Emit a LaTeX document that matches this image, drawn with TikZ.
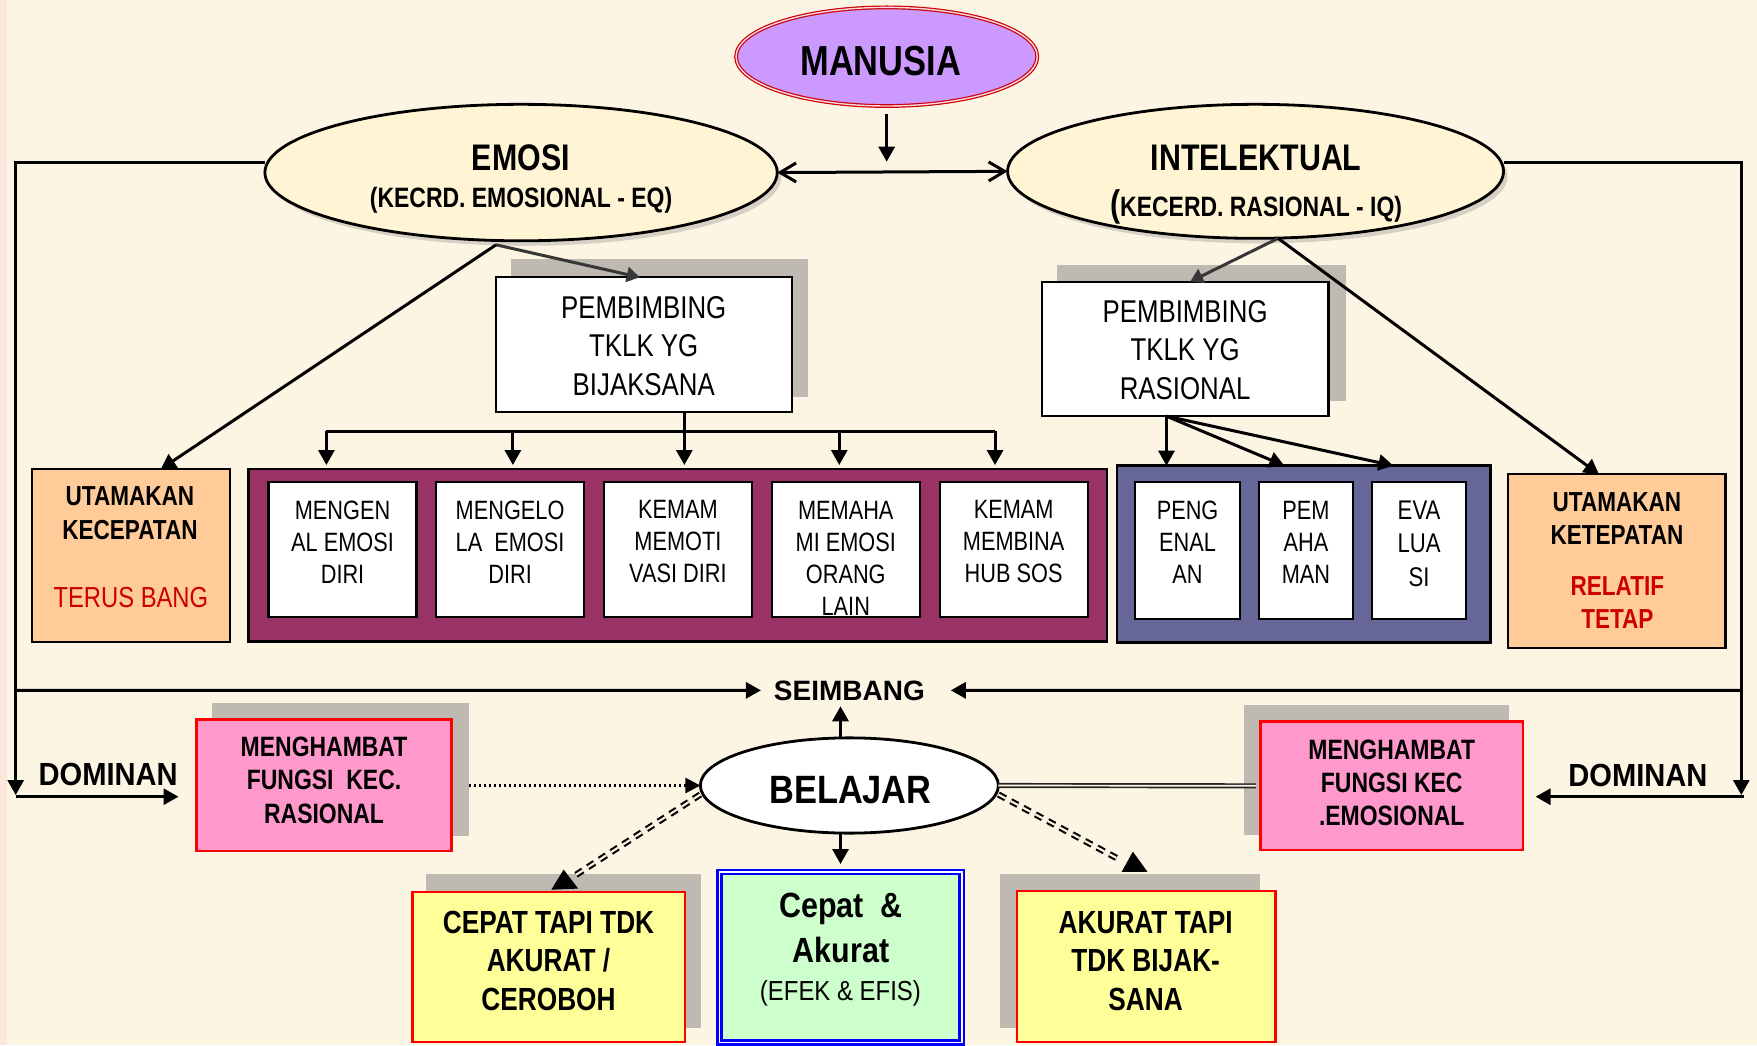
\documentclass[tikz,border=0pt]{standalone}
\usepackage{fontspec}
\setmainfont{Liberation Sans}
\newfontfamily\fA{Liberation Sans}[FakeStretch=0.82]
\newfontfamily\fB{Liberation Sans}[FakeStretch=0.87]
\newfontfamily\fC{Liberation Sans}[FakeStretch=0.91]
\usetikzlibrary{arrows.meta,shapes.geometric,shadows}
\newcommand\uu{1.1205pt}
\newcommand\myfs[2]{\fontsize{#1}{#2}\selectfont}
\definecolor{bg}{RGB}{253,245,228}
\definecolor{strip}{RGB}{250,230,218}
\definecolor{shgrey}{RGB}{190,185,177}
\definecolor{purp}{RGB}{204,153,255}
\definecolor{mgap}{RGB}{250,215,230}
\definecolor{cream}{RGB}{255,244,212}
\definecolor{maroonc}{RGB}{153,51,102}
\definecolor{slatec}{RGB}{102,102,153}
\definecolor{orng}{RGB}{255,204,153}
\definecolor{pinkc}{RGB}{255,153,204}
\definecolor{yell}{RGB}{255,255,153}
\definecolor{mint}{RGB}{204,255,204}
\definecolor{rtext}{RGB}{204,0,0}
\definecolor{dgrey}{RGB}{55,55,55}
\definecolor{manred}{RGB}{204,0,0}
\definecolor{bluec}{RGB}{0,0,255}
\begin{document}
\begin{tikzpicture}[x=1.1205pt,y=-1.1205pt,
  sz/.style 2 args={minimum width=#1*\uu,minimum height=#2*\uu},
  shp/.style={inner sep=0pt,outer sep=0pt},
  shbox/.style={shp,fill=shgrey,draw=none},
  wbox/.style={shp,fill=white,draw=black,line width=2.2pt},
  orbox/.style={shp,fill=orng,draw=black,line width=2.2pt},
  pkbox/.style={shp,fill=pinkc,draw=red,line width=2.4pt},
  ylbox/.style={shp,fill=yell,draw=red,line width=2.4pt},
  cont/.style={shp,draw=black,line width=2.6pt},
  ell/.style={shp,ellipse,draw=black,line width=2.8pt},
  txt/.style={inner sep=0pt,outer sep=0pt,align=center},
  ln/.style={line width=3pt,draw=black},
  arr/.style={-{Triangle[length=15pt,width=16pt]}},
  gar/.style={line width=3pt,draw=dgrey,-{Triangle[length=13pt,width=15pt]}},
  opn/.style={{Straight Barb[length=16pt,width=19pt]}-{Straight Barb[length=16pt,width=19pt]}},
  dotl/.style={line width=2.8pt,draw=black,dash pattern=on 2.6pt off 2.4pt,-{Triangle[length=15pt,width=15pt]}},
  dbl/.style={draw=black!85,double=bg,line width=1.7pt,double distance=1.7pt},
  ddash/.style={draw=black,double=bg,line width=2.1pt,double distance=2.1pt,dash pattern=on 8pt off 6pt},
  eshadow/.style={drop shadow={shadow xshift=4pt,shadow yshift=-5pt,opacity=0.3}}
]
% background
\fill[bg] (0,0) rectangle (1568,933);
\fill[strip] (0,0) rectangle (6,933);
\useasboundingbox (0,0) rectangle (1568,933);

% ellipses
\node[ell,sz={268.8}{88},fill=purp,draw=manred,line width=1.2pt,double=mgap,double distance=1.4pt] (manusia) at (791.3,50.6) {};
\node[ell,sz={457.2}{121.8},fill=cream,eshadow] (emosi) at (465,154) {};
\node[ell,sz={442.6}{119.6},fill=cream,eshadow] (intel) at (1120.5,152.9) {};
\node[ell,sz={266}{85},fill=white] (bel) at (758,701) {};

% grey shadows of boxes
\node[shbox,sz={265}{123}] (shPL) at (588.5,292.5) {};
\node[shbox,sz={258}{121}] (shPR) at (1072,297) {};
\node[shbox,sz={229.4}{118.7}] (shML) at (303.5,686.5) {};
\node[shbox,sz={237.1}{116}] (shMR) at (1228.4,687.2) {};
\node[shbox,sz={245.4}{136.9}] (shCL) at (503.3,848.8) {};
\node[shbox,sz={232.2}{136.9}] (shAR) at (1008.7,848.8) {};

% boxes
\node[wbox,sz={264}{120}] (pembL) at (574.5,307.5) {};
\node[wbox,sz={256}{120}] (pembR) at (1057.6,311.4) {};
\node[orbox,sz={176.6}{154}] (utL) at (117,495.7) {};
\node[cont,fill=maroonc,sz={766}{154}] (purple) at (605,495.7) {};
\foreach \n/\x in {1/305.7,2/455.2,3/605,4/754.8,5/904.6}
  \node[wbox,sz={132}{120.5}] (e\n) at (\x,490.2) {};
\node[cont,fill=slatec,sz={333.4}{158}] (blue) at (1163.4,494.6) {};
\node[wbox,sz={94.2}{122.5}] (i1) at (1059.8,491.2) {};
\node[wbox,sz={83.4}{122.5}] (i2) at (1165.5,491.2) {};
\node[wbox,sz={83.4}{122.5}] (i3) at (1266.4,491.2) {};
\node[orbox,sz={194.5}{154.7}] (utR) at (1442.7,500.7) {};
\node[pkbox,sz={227.8}{117.2}] (pinkL) at (289.2,700.6) {};
\node[pkbox,sz={234.6}{114.6}] (pinkR) at (1242.1,701.3) {};
\node[ylbox,sz={243}{134}] (cepL) at (489.6,862.8) {};
\node[ylbox,sz={230.6}{134.5}] (akR) at (1022.9,862.4) {};
\node[shp,fill=mint,draw=bluec,line width=2.6pt,double=white,double distance=1.5pt,sz={216.4}{152.3}] (ca) at (750.1,854.4) {};

% named coordinates
\coordinate (eB) at ([xshift=-25pt,yshift=-4pt]emosi.south);
\coordinate (iB) at ([xshift=22.5pt]intel.south);
\coordinate (manT) at (791.3,144.3);
\coordinate (lDown) at (14,709.5);
\coordinate (rDown) at (1554,709.5);
\coordinate (lMid) at (14,616);
\coordinate (rMid) at (1554,616);
\coordinate (dLs) at (14,711);
\coordinate (dLe) at (159.3,711);
\coordinate (dRs) at (1556,711);
\coordinate (dRe) at (1370.4,711);
\foreach \n/\x in {1/291.3,2/457.7,3/610.7,4/749,5/888}{
  \coordinate (bus\n) at (\x,384.7);
  \coordinate (tp\n) at (\x,415);
}
\coordinate (rB) at ([xshift=-18.6pt]pembR.south);
\coordinate (dashLe) at (510.5,783);
\coordinate (dashRe) at (997,766);

% texts
\node[txt,anchor=base,font=\fA\bfseries\myfs{42}{50}] (tMan) at (786,67) {MANUSIA};
\node[txt,anchor=base,font=\fA\bfseries\myfs{37}{44}] (tEmo) at (464.8,152.3) {EMOSI};
\node[txt,anchor=base,font=\fA\bfseries\myfs{28}{34}] (tEq) at (465,184.8) {(KECRD. EMOSIONAL - EQ)};
\node[txt,anchor=base,font=\fA\bfseries\myfs{37}{44}] (tInt) at (1121,152.3) {INTELEKTUAL};
\node[txt,anchor=base,font=\fA\bfseries\myfs{28}{34}] (tIq) at (1121,193.4) {{\myfs{37}{40}(}KECERD. RASIONAL - IQ)};
\node[txt,font=\fA\myfs{31.5}{38.4}] (tPL) at (574.5,308.8) {PEMBIMBING\\TKLK YG\\BIJAKSANA};
\node[txt,font=\fA\myfs{31.5}{38.4}] (tPR) at (1057.6,312.4) {PEMBIMBING\\TKLK YG\\RASIONAL};
\node[txt,font=\fA\myfs{26.5}{32}] (t1) at (305.7,483.6) {MENGEN\\AL EMOSI\\DIRI};
\node[txt,font=\fA\myfs{26.5}{32}] (t2) at (455.2,483.6) {MENGELO\\LA\ \ EMOSI\\DIRI};
\node[txt,font=\fA\myfs{26.5}{32}] (t3) at (605,483.6) {KEMAM\\MEMOTI\\VASI DIRI};
\node[txt,font=\fA\myfs{26.5}{32}] (t4) at (754.8,497.9) {MEMAHA\\MI EMOSI\\ORANG\\LAIN};
\node[txt,font=\fA\myfs{26.5}{32}] (t5) at (904.6,483.6) {KEMAM\\MEMBINA\\HUB SOS};
\node[txt,font=\fA\myfs{26.5}{32}] (tb1) at (1059.8,483.6) {PENG\\ENAL\\AN};
\node[txt,font=\fA\myfs{26.5}{32}] (tb2) at (1165.5,483.6) {PEM\\AHA\\MAN};
\node[txt,font=\fA\myfs{27}{33.3}] (tb3) at (1266.4,485.3) {EVA\\LUA\\SI};
\node[txt,font=\fA\bfseries\myfs{27.5}{33.6}] (tUL) at (116,458) {UTAMAKAN\\KECEPATAN};
\node[txt,anchor=base,font=\fA\myfs{29}{34},text=rtext] (tUL2) at (116.8,542) {TERUS BANG};
\node[txt,font=\fA\bfseries\myfs{27.5}{33.6}] (tUR) at (1443,462.6) {UTAMAKAN\\KETEPATAN};
\node[txt,font=\fA\bfseries\myfs{27.5}{33.4},text=rtext] (tUR2) at (1443.4,537.7) {RELATIF\\TETAP};
\node[txt,anchor=base,font=\bfseries\myfs{28}{34}] (seim) at (758,624.7) {SEIMBANG};
\node[txt,anchor=base,font=\fB\bfseries\myfs{39.5}{46}] (tBel) at (759,717) {BELAJAR};
\node[txt,anchor=base,font=\fC\bfseries\myfs{32}{38}] (tDomL) at (96.5,700.6) {DOMINAN};
\node[txt,anchor=base,font=\fC\bfseries\myfs{32}{38}] (tDomR) at (1461.7,702) {DOMINAN};
\node[txt,font=\fA\bfseries\myfs{28}{33.3}] (tML) at (289.2,696.4) {MENGHAMBAT\\FUNGSI\ \ KEC.\\RASIONAL};
\node[txt,font=\fA\bfseries\myfs{28}{33.3}] (tMR) at (1242,698.8) {MENGHAMBAT\\FUNGSI KEC\\.EMOSIONAL};
\node[txt,font=\fA\bfseries\myfs{32}{38.3}] (tCL) at (489.5,857.5) {CEPAT TAPI TDK\\AKURAT /\\CEROBOH};
\node[txt,font=\fA\bfseries\myfs{32}{38.3}] (tAR) at (1022.4,857.5) {AKURAT TAPI\\TDK BIJAK-\\SANA};
\node[txt,font=\fB\bfseries\myfs{35}{44.8}] (tCA) at (750.5,828) {Cepat\ \ \&\\Akurat};
\node[txt,anchor=base,font=\fB\myfs{27.5}{33}] (tCA2) at (750,893) {(EFEK \& EFIS)};

\coordinate (seimB) at ([yshift=-6pt]seim.south);

% connectors
\draw[ln,arr] ([yshift=-8pt]manusia.south) -- (manT);
\draw[ln,opn] (emosi.east) -- (intel.west);
\draw[ln,arr] ([yshift=10pt]emosi.west) -| (lDown);
\draw[ln,arr] ([yshift=9pt]intel.east) -| (rDown);
\draw[ln,arr] (lMid) -- ([xshift=-13pt]seim.west);
\draw[ln,arr] (rMid) -- ([xshift=26pt]seim.east);
\draw[ln,arr] (dLs) -- (dLe);
\draw[ln,arr] (dRs) -- (dRe);
\draw[gar] (eB) -- ([xshift=-4pt]pembL.north);
\draw[ln,arr] (eB) -- ([xshift=29.6pt]utL.north);
\draw[gar] (iB) -- ([xshift=5pt]pembR.north);
\draw[ln,arr] (iB) -- ([xshift=-17.6pt]utR.north);
\draw[ln,arr] (pembL.south -| bus3) -- (tp3);
\draw[ln] (bus1) -- (bus5);
\foreach \n in {1,2,4,5} \draw[ln,arr] (bus\n) -- (tp\n);
\draw[ln,arr] (rB) -- (rB |- blue.north);
\draw[ln,arr] (rB) -- ([xshift=-19.3pt]blue.north);
\draw[ln,arr] (rB) -- ([xshift=89.8pt]blue.north);
\draw[ln,arr] (bel.north -| ca.north) -- (seimB -| ca.north);
\draw[ln,arr] (bel.south -| ca.north) -- ([yshift=8pt]ca.north);
\draw[dotl] (shML.east |- bel.west) -- (bel.west);
\draw[dbl] (bel.east) -- ([xshift=-4.5pt]pinkR.west);
\draw[ddash] ([yshift=-9pt]bel.west) -- (dashLe);
\draw[ddash] ([yshift=-9pt]bel.east) -- (dashRe);
\fill (492,794) -- (503,776) -- (516,793) -- cycle;
\fill (1001,778) -- (1011,760) -- (1024,778) -- cycle;
\end{tikzpicture}
\end{document}
